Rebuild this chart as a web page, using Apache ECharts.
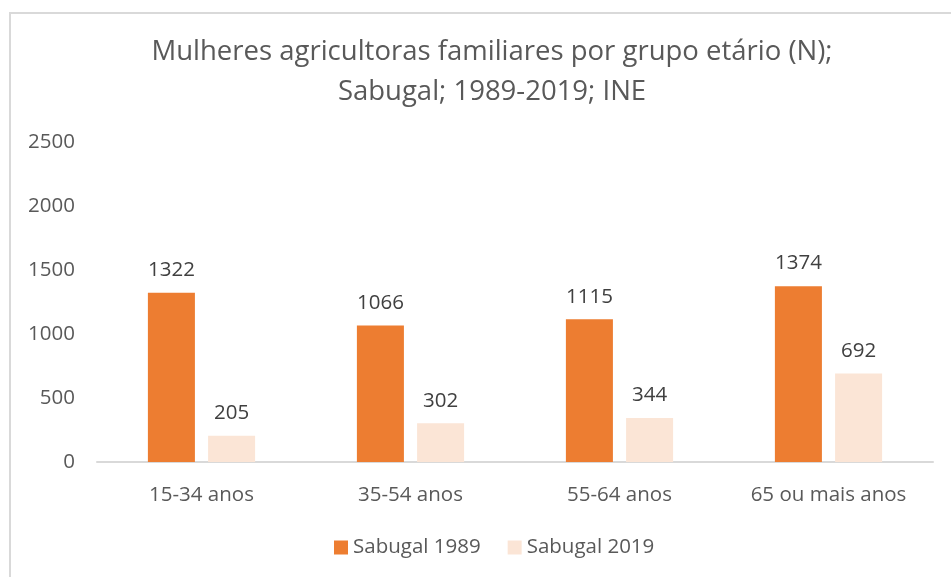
<!DOCTYPE html>
<html>
<head>
<meta charset="utf-8">
<script src="https://cdn.jsdelivr.net/npm/echarts@6/dist/echarts.min.js"></script>
<style>
html,body{margin:0;padding:0;background:#fff;}
#chart{width:951px;height:577px;}
#frame{position:absolute;left:9px;top:12px;width:960px;height:600px;border-left:2px solid #D9D9D9;border-top:2px solid #D9D9D9;pointer-events:none;}
</style>
</head>
<body>
<div id="chart"></div>
<div id="frame"></div>
<script>
const titleText = "Mulheres agricultoras familiares por grupo etário (N);\nSabugal; 1989-2019; INE";
const categories = ["15-34 anos", "35-54 anos", "55-64 anos", "65 ou mais anos"];
const seriesNames = ["Sabugal 1989", "Sabugal 2019"];
const values1989 = [1322, 1066, 1115, 1374];
const values2019 = [205, 302, 344, 692];
const yTicks = [0, 500, 1000, 1500, 2000, 2500];

const FONT = "Open Sans";
const chart = echarts.init(document.getElementById('chart'), null, {renderer: 'canvas'});
chart.setOption({
  animation: false,
  backgroundColor: '#fff',
  title: {
    text: titleText,
    left: 487,
    textAlign: 'center',
    top: 27,
    textStyle: {fontFamily: FONT, fontSize: 27.5, fontWeight: 'normal', color: '#595959', lineHeight: 40}
  },
  legend: {
    data: seriesNames,
    bottom: 14,
    left: 329,
    itemWidth: 14,
    itemHeight: 14,
    itemGap: 27,
    icon: 'rect',
    textStyle: {fontFamily: FONT, fontSize: 20.5, color: '#595959'}
  },
  grid: {left: 97, right: 18, top: 142, bottom: 115, containLabel: false},
  xAxis: {
    type: 'category',
    data: categories,
    axisLine: {lineStyle: {color: '#D9D9D9', width: 2}},
    axisTick: {show: false},
    axisLabel: {fontFamily: FONT, fontSize: 20.5, color: '#595959', margin: 23}
  },
  yAxis: {
    type: 'value',
    min: yTicks[0],
    max: yTicks[yTicks.length - 1],
    interval: 500,
    splitLine: {show: false},
    axisLine: {show: false},
    axisTick: {show: false},
    axisLabel: {fontFamily: FONT, fontSize: 20.5, color: '#595959', margin: 22, formatter: v => String(v)}
  },
  series: [
    {
      name: seriesNames[0], type: 'bar', data: values1989,
      barWidth: '22.5%', barGap: '28%',
      itemStyle: {color: '#ED7D31'},
      label: {show: true, position: 'top', distance: 12, fontFamily: FONT, fontSize: 20.5, color: '#404040'}
    },
    {
      name: seriesNames[1], type: 'bar', data: values2019,
      barWidth: '22.5%',
      itemStyle: {color: '#FBE5D6'},
      label: {show: true, position: 'top', distance: 12, fontFamily: FONT, fontSize: 20.5, color: '#404040'}
    }
  ]
});
</script>
</body>
</html>
